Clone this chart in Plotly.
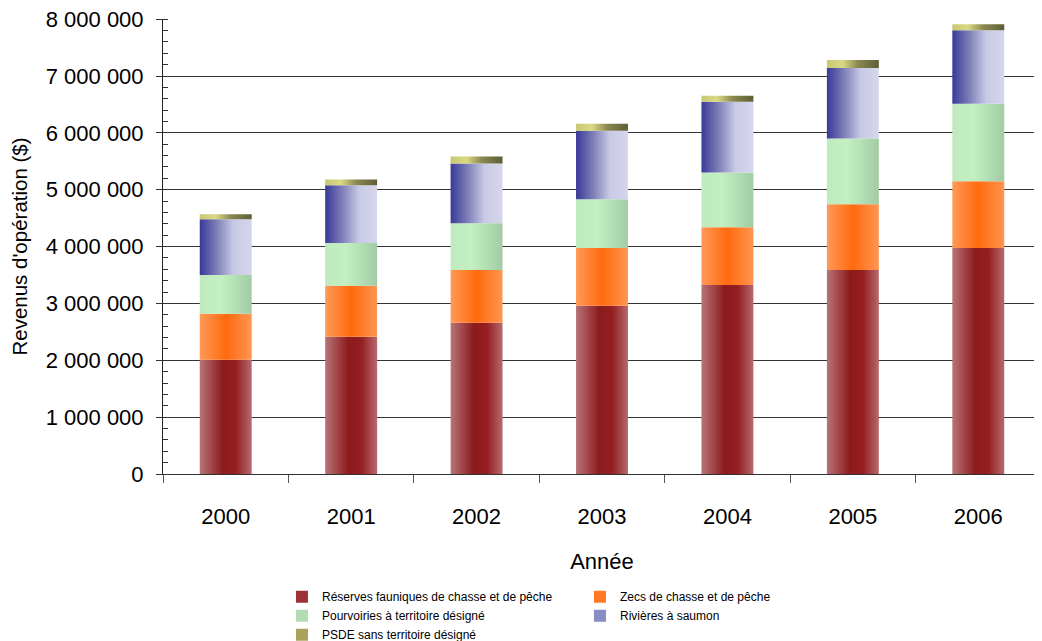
import plotly.graph_objects as go

years = ["2000", "2001", "2002", "2003", "2004", "2005", "2006"]
reserves = [2010000, 2416000, 2661000, 2958000, 3326000, 3589000, 3974000]
zecs = [808000, 893000, 928000, 1016000, 1015000, 1155000, 1173000]
pourvoiries = [682000, 752000, 822000, 858000, 963000, 1155000, 1365000]
rivieres = [980000, 1016000, 1051000, 1207000, 1243000, 1243000, 1295000]
psde = [90000, 105000, 122000, 123000, 105000, 140000, 105000]

series = [
    ("Réserves fauniques de chasse et de pêche", reserves, "#9c3136",
     [[0, "#b77478"], [0.45, "#8c1a1c"], [0.7, "#951f22"], [1, "#b56a6e"]]),
    ("Zecs de chasse et de pêche", zecs, "#ff7a22",
     [[0, "#ff9a58"], [0.5, "#ff6a0e"], [1, "#ff9652"]]),
    ("Pourvoiries à territoire désigné", pourvoiries, "#b2dcb4",
     [[0, "#bfeabf"], [0.4, "#c2f0c2"], [1, "#a2cca4"]]),
    ("Rivières à saumon", rivieres, "#8a8cc4",
     [[0, "#39399a"], [0.3, "#7878b4"], [0.65, "#c8c9e4"], [1, "#d6d7ec"]]),
    ("PSDE sans territoire désigné", psde, "#aaa25a",
     [[0, "#c8c872"], [0.3, "#dada84"], [0.6, "#8a8850"], [1, "#5e5e36"]]),
]

half = 0.207
fig = go.Figure()

# legend entries
for name, vals, col, scale in series:
    fig.add_trace(go.Bar(x=[None], y=[None], name=name,
                         marker=dict(color=col, line=dict(width=0))))

# gradient-filled stacked bars
bases = [0] * len(years)
for name, vals, col, scale in series:
    for i, v in enumerate(vals):
        b = bases[i]
        x0, x1 = i - half, i + half
        fig.add_trace(go.Scatter(
            x=[x0, x1, x1, x0, x0], y=[b, b, b + v, b + v, b],
            fill="toself", mode="none", fillcolor=col,
            fillgradient=dict(type="horizontal", colorscale=scale, start=x0, stop=x1),
            showlegend=False, hoverinfo="skip", legendgroup=name))
        bases[i] = b + v

fig.update_layout(
    width=1042, height=641,
    margin=dict(l=155, r=9, t=11, b=175, autoexpand=False),
    plot_bgcolor="white", paper_bgcolor="white",
    separators=", ",
    font=dict(family="Liberation Sans, Arial, sans-serif", color="black"),
    showlegend=True,
    legend=dict(orientation="h", x=0.1355, y=-0.238, xanchor="left", yanchor="top",
                entrywidth=253, font=dict(size=12), traceorder="normal",
                itemwidth=30),
)
fig.update_xaxes(
    range=[-0.5, 6.5],
    tickvals=list(range(len(years))), ticktext=years,
    showline=True, linecolor="#333", linewidth=1,
    ticks="",
    minor=dict(tickvals=[i - 0.5 for i in range(len(years) + 1)], ticks="outside",
               ticklen=8, tickcolor="#555", showgrid=False),
    tickfont=dict(size=22), ticklabelstandoff=23,
    title=dict(text="Année", font=dict(size=22), standoff=25),
    showgrid=False, zeroline=False, automargin=False,
)
fig.update_yaxes(
    range=[0, 8003000], tickvals=[i * 1000000 for i in range(9)], tickformat=",d",
    showline=True, linecolor="#222", linewidth=1,
    ticks="outside", ticklen=6, tickcolor="#333", ticklabeloverflow="allow",
    minor=dict(ticks="inside", dtick=200000, ticklen=5, tickcolor="#333", showgrid=False),
    showgrid=True, gridcolor="#333333", gridwidth=1.4,
    tickfont=dict(size=22), ticklabelstandoff=8,
    title=dict(text="Revenus d'opération ($)", font=dict(size=20.5), standoff=13),
    zeroline=False, automargin=False,
)

fig.write_html("out.html")
